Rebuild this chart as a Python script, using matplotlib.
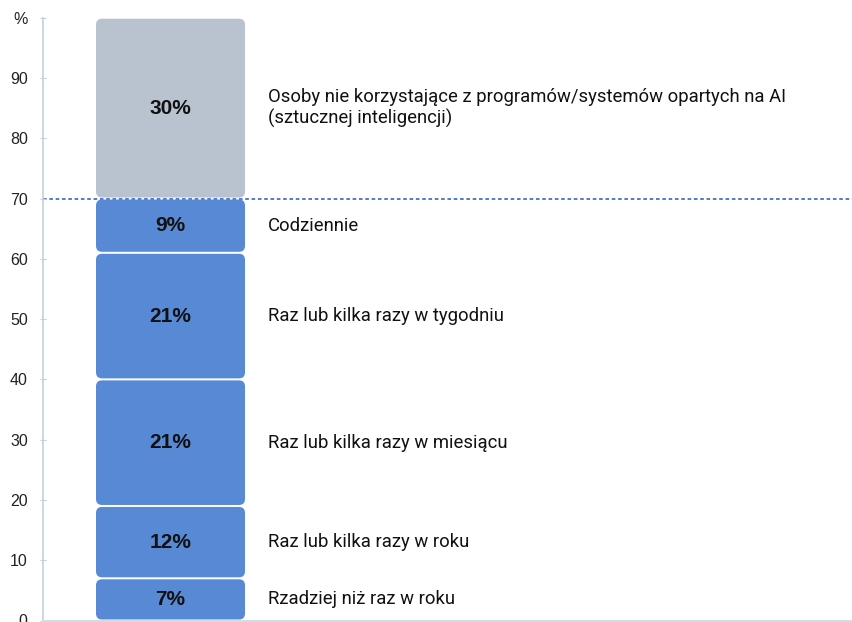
import matplotlib.pyplot as plt
from matplotlib.patches import FancyBboxPatch

# shares (%) from bottom to top
shares = [7, 12, 21, 21, 9, 30]
labels = ["Rzadziej niż raz w roku",
          "Raz lub kilka razy w roku",
          "Raz lub kilka razy w miesiącu",
          "Raz lub kilka razy w tygodniu",
          "Codziennie",
          "Osoby nie korzystające z programów/systemów opartych na AI\n(sztucznej inteligencji)"]
colors = ["#5789d4"] * 5 + ["#b9c2cf"]
yticks = [0, 10, 20, 30, 40, 50, 60, 70, 80, 90, 100]
ytick_labels = ["0", "10", "20", "30", "40", "50", "60", "70", "80", "90", "%"]
users_line = 70

W, H = 853, 622
fig = plt.figure(figsize=(W / 100, H / 100), dpi=100)
ax = fig.add_axes([43 / W, 1.5 / H, 810 / W, 602.8 / H])

ax.set_xlim(0, 810)
ax.set_ylim(0, 100)
px_per_unit = 602.8 / 100

bar_x, bar_w = 53, 149
gap = 1.0 / px_per_unit  # half of the white gap between blocks
bottom = 0
for val, lab, col in zip(shares, labels, colors):
    box = FancyBboxPatch((bar_x, bottom + gap), bar_w, val - 2 * gap,
                         boxstyle="round,pad=0,rounding_size=6",
                         mutation_aspect=1 / px_per_unit,
                         facecolor=col, edgecolor="none", zorder=2)
    ax.add_patch(box)
    mid = bottom + val / 2
    ax.text(bar_x + bar_w / 2, mid, f"{val}%", ha="center", va="center",
            fontsize=15, fontweight="bold", color="#111111",
            family=["Liberation Sans", "DejaVu Sans"], zorder=3)
    ax.text(225, mid, lab, ha="left", va="center", fontsize=13.3,
            color="#111111", linespacing=1.2,
            family=["Roboto", "DejaVu Sans"])
    bottom += val

# line separating users from non-users
ax.axhline(users_line, color="#4472c4", linestyle=(0, (2, 1.5)), lw=1.3, zorder=1)

ax.set_yticks(yticks)
ax.set_yticklabels(ytick_labels, family=["Liberation Sans", "DejaVu Sans"],
                   fontsize=11.5, color="#222222")
ax.set_xticks([])
ax.tick_params(axis="y", direction="inout", length=5, color="#c5cfdc", pad=8.5)
for s in ["top", "right"]:
    ax.spines[s].set_visible(False)
ax.spines["left"].set_color("#c5cfdc")
ax.spines["bottom"].set_color("#d5dbe3")
ax.spines["left"].set_linewidth(1.2)
ax.spines["bottom"].set_linewidth(1.5)

fig.savefig("out.png", dpi=100)
